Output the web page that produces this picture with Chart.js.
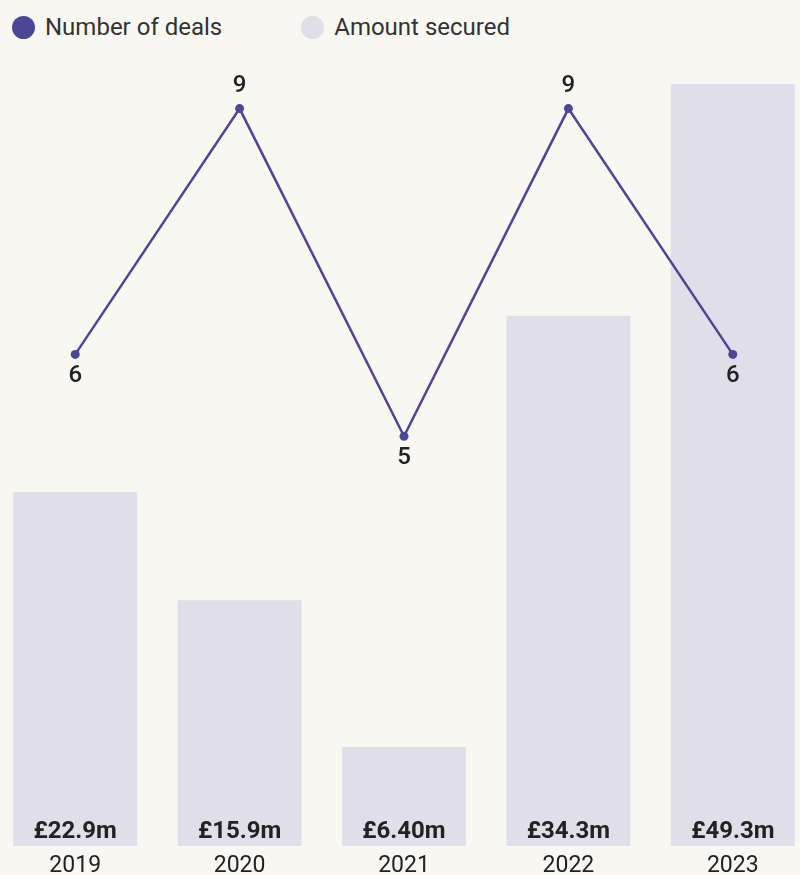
<!DOCTYPE html>
<html>
<head>
<meta charset="utf-8">
<script src="https://cdn.jsdelivr.net/npm/chart.js@4/dist/chart.umd.min.js"></script>
<style>
  html, body { margin: 0; padding: 0; background: #f8f7f2; }
  #wrap { position: relative; width: 800px; height: 875px; overflow: hidden; background: #f8f7f2; }
  #chart { position: absolute; left: -7px; top: 0; }
  #legend { position: absolute; left: 12px; top: 13px; display: flex; align-items: center;
            font-family: Roboto, "Liberation Sans", sans-serif; font-size: 24px; color: #333; }
  #legend .item { display: flex; align-items: center; margin-right: 79px; }
  #legend .dot { width: 23px; height: 23px; border-radius: 50%; margin-right: 10px; }
</style>
</head>
<body>
<div id="wrap">
  <div id="legend"></div>
  <canvas id="chart" width="822" height="875"></canvas>
</div>
<script>
// Yearly deal count and money raised
const years = ['2019', '2020', '2021', '2022', '2023'];
const dealCounts = [6, 9, 5, 9, 6];
const amountSecured = [22.9, 15.9, 6.4, 34.3, 49.3]; // £ millions

const dealColor = '#4b4796';
const amountColor = '#e0dee9';
const labelFont = 'Roboto, "Liberation Sans", sans-serif';

// Writes the value labels: amounts at the foot of each bar, deal counts by each point
const valueLabels = {
  id: 'valueLabels',
  afterDatasetsDraw(chart) {
    const ctx = chart.ctx;
    ctx.save();
    ctx.textAlign = 'center';
    ctx.textBaseline = 'middle';
    ctx.fillStyle = '#222';

    const barMeta = chart.getDatasetMeta(1);
    ctx.font = 'bold 24px ' + labelFont;
    barMeta.data.forEach((bar, i) => {
      const v = chart.data.datasets[1].data[i];
      ctx.fillText('£' + v.toPrecision(3) + 'm', bar.x, bar.base - 14);
    });

    const lineMeta = chart.getDatasetMeta(0);
    const counts = chart.data.datasets[0].data;
    ctx.font = '500 24px ' + labelFont;
    lineMeta.data.forEach((pt, i) => {
      const v = counts[i];
      const prev = i > 0 ? counts[i - 1] : -Infinity;
      const next = i < counts.length - 1 ? counts[i + 1] : -Infinity;
      const peak = v >= prev && v >= next;
      ctx.fillText(String(v), pt.x, peak ? pt.y - 23 : pt.y + 22);
    });
    ctx.restore();
  }
};

const chart = new Chart(document.getElementById('chart'), {
  type: 'bar',
  data: {
    labels: years,
    datasets: [
      {
        type: 'line',
        label: 'Number of deals',
        data: dealCounts,
        yAxisID: 'y1',
        borderColor: dealColor,
        backgroundColor: dealColor,
        borderWidth: 2.5,
        pointRadius: 4.5,
        pointHoverRadius: 4.5,
        pointBackgroundColor: dealColor,
        pointBorderWidth: 0,
        tension: 0,
        order: 0
      },
      {
        type: 'bar',
        label: 'Amount secured',
        data: amountSecured,
        yAxisID: 'y',
        backgroundColor: amountColor,
        borderWidth: 0,
        categoryPercentage: 1,
        barPercentage: 0.754,
        order: 1
      }
    ]
  },
  options: {
    responsive: false,
    animation: false,
    devicePixelRatio: 1,
    layout: { autoPadding: false, padding: { top: 84, left: 0, right: 0, bottom: 0 } },
    plugins: {
      legend: { display: false },
      tooltip: { enabled: false }
    },
    scales: {
      x: {
        grid: { display: false, drawTicks: false },
        border: { display: false },
        ticks: {
          color: '#222',
          font: { family: labelFont, size: 23 },
          padding: 6
        },
        afterFit(scale) { scale.height = 29; }
      },
      y: {
        display: false,
        min: 0,
        max: 49.3
      },
      y1: {
        display: false,
        position: 'right',
        min: 0,
        max: 9.3
      }
    }
  },
  plugins: [valueLabels]
});

// Legend built from the chart's own datasets
const legendEl = document.getElementById('legend');
chart.data.datasets.forEach(ds => {
  const item = document.createElement('div');
  item.className = 'item';
  const dot = document.createElement('span');
  dot.className = 'dot';
  dot.style.background = ds.type === 'line' ? ds.borderColor : ds.backgroundColor;
  const txt = document.createElement('span');
  txt.textContent = ds.label;
  item.appendChild(dot);
  item.appendChild(txt);
  legendEl.appendChild(item);
});
</script>
</body>
</html>
